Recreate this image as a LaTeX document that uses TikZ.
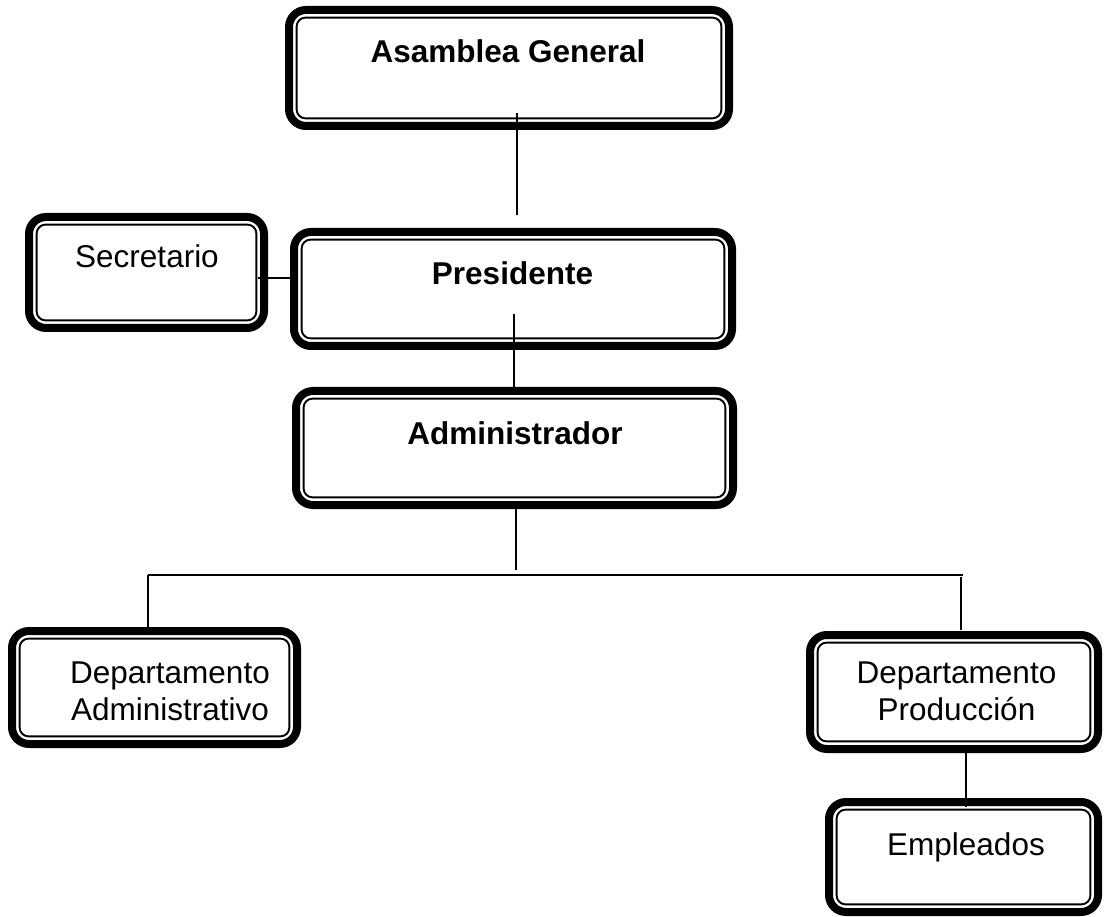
\documentclass[tikz,border=0pt]{standalone}
\usepackage{fontspec}
\setmainfont{Liberation Sans}
\usetikzlibrary{calc}

\tikzset{
  % thick outer frame with a thin inner frame
  orgbox/.style={draw, line width=8pt, rounded corners=17pt,
    outer sep=0pt, inner sep=0pt,
    append after command={\pgfextra{%
      \draw[line width=1.9pt, rounded corners=9pt]
        ($(\tikzlastnode.south west)+(7.6pt,7.6pt)$) rectangle
        ($(\tikzlastnode.north east)+(-7.6pt,-7.6pt)$);}}},
  plainlbl/.style={anchor=base, inner sep=0pt,
    font=\fontsize{31.5pt}{37pt}\selectfont},
  boldlbl/.style={plainlbl, font=\fontsize{31.5pt}{37pt}\selectfont\bfseries},
  twolbl/.style={plainlbl, align=center},
  link/.style={line width=1.4pt}
}

\begin{document}
\begin{tikzpicture}[x=1pt, y=-1pt]
\useasboundingbox (0,0) rectangle (1104,917);

% boxes
\node[orgbox, minimum width=440pt, minimum height=116pt] (ag)   at (509,68)    {};
\node[orgbox, minimum width=235pt, minimum height=111pt] (sec)  at (146.5,272.5) {};
\node[orgbox, minimum width=438pt, minimum height=114pt] (pres) at (513,289)   {};
\node[orgbox, minimum width=437pt, minimum height=114pt] (adm)  at (514.5,448) {};
\node[orgbox, minimum width=285pt, minimum height=113pt] (dadm) at (154.5,687.5) {};
\node[orgbox, minimum width=288pt, minimum height=114pt] (dprod) at (954,692)  {};
\node[orgbox, minimum width=269pt, minimum height=110pt] (emp)  at (963.5,857) {};

% labels
\node[boldlbl]  (agT)   at (508,63)   {Asamblea General};
\node[plainlbl] (secT)  at (147,268)  {Secretario};
\node[boldlbl]  (presT) at (512.5,285) {Presidente};
\node[boldlbl]  (admT)  at (515,445)  {Administrador};
\node[twolbl]   (dadmT) at (170,720)  {Departamento\\Administrativo};
\node[twolbl]   (dprodT) at (956.5,720) {Departamento\\Producción};
\node[plainlbl] (empT)  at (966,855)  {Empleados};

% connector end points
\coordinate (agA)   at (517,113);
\coordinate (agB)   at (517,215);
\coordinate (secA)  at (258,278);
\coordinate (secB)  at (290,278);
\coordinate (presA) at (514,314);
\coordinate (presB) at (514,387);
\coordinate (admA)  at (516,509);
\coordinate (admB)  at (516,570);
\coordinate (barL)  at (148,575);
\coordinate (barR)  at (963,575);
\coordinate (dadmB) at (148,635);
\coordinate (dprodA) at (961,577);
\coordinate (dprodB) at (961,630);
\coordinate (empA)  at (966,753);
\coordinate (empB)  at (966,807);

% connectors
\draw[link] (agA) -- (agB);
\draw[link] (secA) -- (secB);
\draw[link] (presA) -- (presB);
\draw[link] (admA) -- (admB);
\draw[link] (barL) -- (barR);
\draw[link] (barL) -- (dadmB);
\draw[link] (dprodA) -- (dprodB);
\draw[link] (empA) -- (empB);
\end{tikzpicture}
\end{document}
